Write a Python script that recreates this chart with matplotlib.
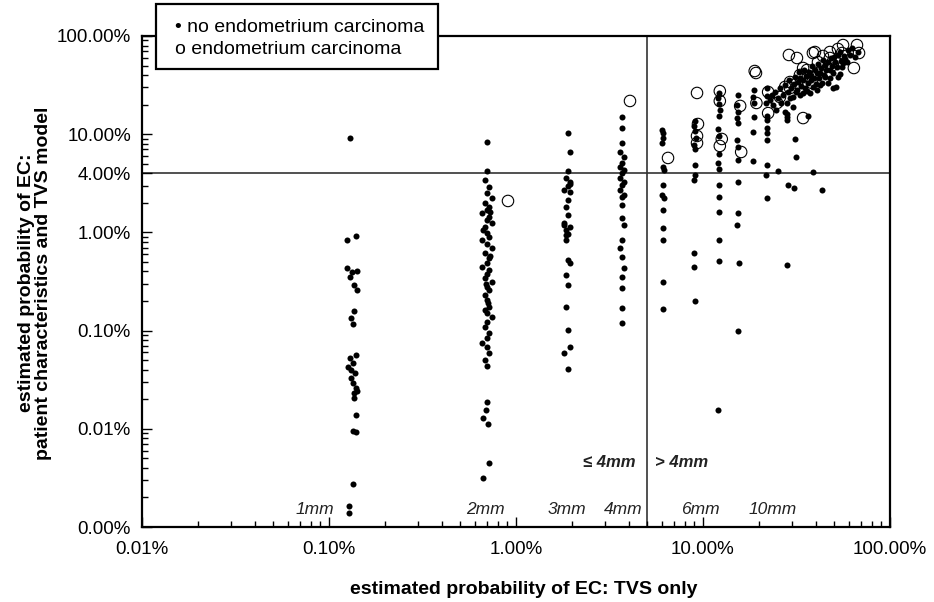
import matplotlib
matplotlib.use("Agg")
import matplotlib.pyplot as plt
from matplotlib.patches import Rectangle
from matplotlib.ticker import FixedLocator, LogLocator, NullFormatter

plt.rcParams['font.family'] = ['Liberation Sans', 'DejaVu Sans']

# ---- data: estimated probability of EC (%) ----
# patients without endometrium carcinoma
col_1mm_x = [0.129, 0.125, 0.139, 0.125, 0.133, 0.141, 0.129, 0.136, 0.141, 0.136,
             0.131, 0.134, 0.139, 0.129, 0.134, 0.126, 0.131, 0.137, 0.131, 0.134,
             0.139, 0.136, 0.141, 0.136, 0.139, 0.134, 0.139, 0.134, 0.128, 0.128]
col_1mm_y = [9.15, 0.84, 0.92, 0.434, 0.395, 0.405, 0.351, 0.291, 0.259, 0.158,
             0.134, 0.117, 0.0565, 0.0526, 0.0468, 0.0426, 0.0397, 0.037, 0.0329, 0.0292,
             0.026, 0.0232, 0.024, 0.0206, 0.0138, 0.0095, 0.0093, 0.00274, 0.00164, 0.00139]

col_2mm_x = [0.70, 0.70, 0.68, 0.72, 0.70, 0.74, 0.68, 0.72, 0.70, 0.66,
             0.72, 0.70, 0.74, 0.68, 0.70, 0.72, 0.66, 0.70, 0.74, 0.68,
             0.72, 0.70, 0.66, 0.72, 0.70, 0.68, 0.74, 0.70, 0.72, 0.68,
             0.70, 0.72, 0.68, 0.70, 0.74, 0.70, 0.68, 0.72, 0.70, 0.66,
             0.70, 0.72, 0.68, 0.70, 0.70, 0.69, 0.67, 0.71, 0.72, 0.67,
             0.73, 0.67, 0.73, 0.69, 0.71]
col_2mm_y = [8.33, 4.22, 3.42, 2.90, 2.52, 2.24, 1.99, 1.82, 1.69, 1.58,
             1.44, 1.34, 1.25, 1.14, 0.986, 0.898, 0.837, 0.762, 0.694, 0.617,
             0.548, 0.488, 0.444, 0.414, 0.377, 0.343, 0.313, 0.278, 0.259, 0.231,
             0.205, 0.174, 0.162, 0.151, 0.137, 0.122, 0.109, 0.0946, 0.0841, 0.0748,
             0.0681, 0.0592, 0.0502, 0.0437, 0.0188, 0.0155, 0.0129, 0.0112, 0.00449, 0.00316,
             1.62, 1.05, 0.58, 0.30, 0.19]

col_3mm_x = [1.89, 1.94, 1.89, 1.85, 1.94, 1.89, 1.80, 1.94, 1.89, 1.85,
             1.89, 1.80, 1.94, 1.85, 1.89, 1.85, 1.89, 1.94, 1.85, 1.89,
             1.85, 1.89, 1.94, 1.80, 1.89, 1.94, 1.80, 1.85]
col_3mm_y = [10.3, 6.59, 4.22, 3.58, 3.26, 2.97, 2.70, 2.58, 2.14, 1.82,
             1.50, 1.25, 1.14, 1.06, 0.963, 0.837, 0.524, 0.488, 0.368, 0.291,
             0.174, 0.101, 0.0681, 0.0592, 0.0406, 3.1, 1.2, 0.95]

col_4mm_x = [3.69, 3.69, 3.69, 3.60, 3.78, 3.69, 3.60, 3.78, 3.69, 3.60,
             3.78, 3.69, 3.60, 3.78, 3.69, 3.69, 3.69, 3.78, 3.69, 3.60,
             3.69, 3.78, 3.69, 3.69, 3.69, 3.69]
col_4mm_y = [15.0, 11.6, 8.13, 6.59, 5.86, 5.09, 4.63, 4.32, 4.03, 3.58,
             3.26, 3.04, 2.70, 2.40, 2.29, 1.90, 1.40, 1.19, 0.837, 0.694,
             0.561, 0.434, 0.351, 0.272, 0.170, 0.119]

col_6mm_x = [6.0, 6.1, 6.1, 6.0, 6.1, 6.2, 6.1, 6.0, 6.2, 6.1, 6.1, 6.1, 6.1, 6.1]
col_6mm_y = [11.0, 10.3, 9.15, 8.13, 4.63, 4.32, 3.04, 2.40, 2.24, 1.69, 1.11, 0.837, 0.313, 0.166]

col_9pct_x = [9.06, 8.9, 9.06, 9.2, 8.9, 9.06, 9.06, 9.06, 8.9, 8.9, 8.9, 9.06]
col_9pct_y = [13.6, 12.1, 10.8, 9.15, 7.76, 7.07, 4.86, 3.84, 3.42, 0.617, 0.444, 0.200]

col_12pct_x = [12.2, 12.0, 12.2, 12.4, 12.2, 12.0, 12.2, 12.2, 12.0, 12.2,
               12.2, 12.2, 12.2, 12.2, 12.2, 12.0]
col_12pct_y = [26.3, 23.4, 20.3, 17.6, 15.3, 11.3, 9.59, 6.29, 5.09, 4.42,
               3.04, 2.29, 1.61, 0.837, 0.512, 0.0155]

col_15pct_x = [15.4, 15.2, 15.4, 15.2, 15.4, 15.2, 15.4, 15.4, 15.4, 15.4, 15.2, 15.6, 15.4]
col_15pct_y = [25.1, 19.8, 16.8, 14.6, 13.0, 8.73, 7.41, 5.46, 3.26, 1.58, 1.19, 0.488, 0.100]

col_19pct_x = [18.7, 18.5, 18.7, 18.7, 18.5, 18.5]
col_19pct_y = [28.2, 23.9, 20.8, 15.0, 10.5, 5.33]

col_22pct_x = [22.0, 22.0, 21.6, 22.0, 22.0, 22.0, 22.0, 22.0, 22.0, 21.6, 22.0]
col_22pct_y = [29.5, 24.5, 20.8, 15.3, 14.0, 11.6, 10.3, 8.73, 4.86, 3.84, 2.24]

upper_x = [22.8, 23.4, 23.7, 24.3, 24.6, 25.2, 25.8, 26.1, 26.8, 27.5,
           27.5, 28.1, 28.1, 28.5, 28.8, 29.2, 29.6, 30.3, 30.3, 30.7,
           31.0, 31.4, 31.8, 32.2, 32.6, 33.0, 33.0, 33.4, 34.3, 34.3,
           34.7, 35.1, 35.6, 36.0, 36.4, 36.4, 36.9, 37.3, 37.3, 37.8,
           38.3, 38.7, 39.3, 39.7, 40.2, 40.7, 40.7, 41.2, 41.7, 42.3,
           42.3, 42.8, 43.3, 43.8, 44.4, 44.9, 44.9, 45.5, 46.6, 46.6,
           47.7, 47.7, 48.3, 48.9, 49.5, 49.5, 50.2, 50.8, 51.4, 52.1,
           52.7, 52.7, 54.1, 54.1, 54.7, 55.4, 56.1, 56.8, 57.4, 58.9,
           59.6, 61.1, 62.7, 65.0, 67.4, 28.1, 28.0,
           25.2, 28.5, 30.7, 31.0, 31.4, 38.7, 43.3, 28.1]
upper_y = [22.3, 25.1, 19.8, 26.9, 17.6, 23.4, 29.5, 20.8, 25.1, 31.7,
           16.8, 20.8, 16.1, 26.9, 35.6, 23.4, 29.5, 23.9, 18.9, 32.4,
           38.2, 26.9, 28.2, 34.0, 43.0, 37.3, 25.1, 31.0, 26.3, 35.6,
           45.1, 29.5, 39.2, 27.5, 33.2, 15.3, 43.0, 40.1, 26.3, 35.6,
           49.5, 30.3, 37.3, 45.1, 32.4, 28.2, 42.0, 51.9, 37.3, 31.7,
           42.0, 47.2, 33.2, 57.0, 40.1, 50.7, 38.2, 45.1, 33.2, 54.3,
           45.1, 37.3, 59.7, 49.5, 42.0, 29.5, 61.1, 54.3, 30.3, 48.3,
           38.2, 64.1, 68.7, 41.0, 55.6, 48.3, 53.1, 62.6, 58.3, 54.3,
           72.0, 64.1, 75.5, 61.1, 68.7, 15.0, 14.0,
           4.22, 3.04, 2.83, 8.94, 5.86, 4.12, 2.70, 0.466]

no_ec_x = (col_1mm_x + col_2mm_x + col_3mm_x + col_4mm_x + col_6mm_x + col_9pct_x
           + col_12pct_x + col_15pct_x + col_19pct_x + col_22pct_x + upper_x)
no_ec_y = (col_1mm_y + col_2mm_y + col_3mm_y + col_4mm_y + col_6mm_y + col_9pct_y
           + col_12pct_y + col_15pct_y + col_19pct_y + col_22pct_y + upper_y)

# patients with endometrium carcinoma
ec_x = [0.906, 4.07, 6.50, 9.29, 9.40, 9.29, 9.29, 12.3, 12.3, 12.6,
        12.3, 15.8, 16.0, 18.9, 19.2, 19.3, 22.3, 22.3, 24.9, 25.8,
        27.5, 28.8, 29.2, 29.2, 31.8, 31.8, 33.0, 34.3, 34.3, 36.0,
        36.4, 38.3, 38.7, 39.7, 41.2, 43.8, 47.7, 47.7, 49.5, 52.7,
        55.4, 56.1, 64.1, 66.6, 68.3]
ec_y = [2.09, 21.8, 5.73, 26.3, 12.7, 9.59, 8.13, 27.5, 21.8, 8.94,
        7.59, 19.4, 6.59, 44.0, 42.0, 20.8, 26.9, 16.4, 20.8, 23.9,
        30.3, 64.1, 34.0, 29.5, 59.7, 33.2, 40.1, 14.6, 47.2, 45.1,
        39.2, 33.2, 67.1, 68.7, 54.3, 62.6, 68.7, 59.7, 50.7, 73.8,
        67.1, 80.9, 47.2, 80.9, 67.1]

# axis ticks and annotations
x_ticks = [0.01, 0.1, 1, 10, 100]
x_ticklabels = ['0.01%', '0.10%', '1.00%', '10.00%', '100.00%']
y_ticks = [0.001, 0.01, 0.1, 1, 4, 10, 100]
y_ticklabels = ['0.00%', '0.01%', '0.10%', '1.00%', '4.00%', '10.00%', '100.00%']
threshold_x = 5.0
threshold_y = 4.0
mm_labels = ['1mm', '2mm', '3mm', '4mm', '6mm', '10mm']
mm_label_x = [0.0841, 0.683, 1.87, 3.73, 9.64, 23.7]

# ---- figure ----
fig = plt.figure(figsize=(9.34, 6.02), dpi=100)
ax = fig.add_axes([142 / 934, 1 - 527 / 602, 748 / 934, 491 / 602])
ax.set_xscale('log')
ax.set_yscale('log')
ax.set_xlim(0.01, 100)
ax.set_ylim(0.001, 100)

ax.axvline(threshold_x, color='#333333', lw=1.2, zorder=1)
ax.axhline(threshold_y, color='#333333', lw=1.2, zorder=1)

ax.scatter(no_ec_x, no_ec_y, s=19, marker='o', color='black', linewidths=0, zorder=3)
ax.scatter(ec_x, ec_y, s=68, marker='o', facecolors='none', edgecolors='black',
           linewidths=0.8, zorder=4)

ax.xaxis.set_major_locator(FixedLocator(x_ticks))
ax.set_xticklabels(x_ticklabels)
ax.yaxis.set_major_locator(FixedLocator(y_ticks))
ax.set_yticklabels(y_ticklabels)
ax.xaxis.set_minor_locator(LogLocator(base=10, subs=range(2, 10), numticks=20))
ax.yaxis.set_minor_locator(LogLocator(base=10, subs=range(2, 10), numticks=20))
ax.xaxis.set_minor_formatter(NullFormatter())
ax.yaxis.set_minor_formatter(NullFormatter())
ax.tick_params(which='major', direction='in', length=7, width=1, labelsize=13.5,
               colors='black')
ax.tick_params(axis='x', which='major', pad=10)
ax.tick_params(axis='y', which='major', pad=8)
ax.tick_params(which='minor', direction='in', length=4, width=1)
for sp in ax.spines.values():
    sp.set_linewidth(1.6)

# wall thickness annotations
for lab, xv in zip(mm_labels, mm_label_x):
    ax.text(xv, 0.00152, lab, ha='center', va='center', style='italic',
            fontsize=12.5, color='#222222')
ax.text(4.33, 0.00449, '≤ 4mm', ha='right', va='center', style='italic',
        fontweight='bold', fontsize=12, color='#222222')
ax.text(5.54, 0.00449, '> 4mm', ha='left', va='center', style='italic',
        fontweight='bold', fontsize=12, color='#222222')

# axis titles
fig.text(524 / 934, 1 - 590 / 602, 'estimated probability of EC: TVS only',
         ha='center', va='center', fontsize=14, fontweight='bold')
fig.text(35 / 934, 1 - 283 / 602,
         'estimated probability of EC:\npatient characteristics and TVS model',
         ha='center', va='center', rotation=90, fontsize=14, fontweight='bold',
         multialignment='center', linespacing=1.05)

# key box
fig.add_artist(Rectangle((156 / 934, 1 - 69 / 602), 282 / 934, 65 / 602,
                         transform=fig.transFigure, facecolor='white',
                         edgecolor='black', linewidth=1.6, zorder=5))
fig.text(175 / 934, 1 - 27 / 602, '• no endometrium carcinoma', ha='left',
         va='center', fontsize=14, zorder=6)
fig.text(175 / 934, 1 - 50 / 602, 'o endometrium carcinoma', ha='left',
         va='center', fontsize=14, zorder=6)

fig.savefig('out.png', dpi=100)
